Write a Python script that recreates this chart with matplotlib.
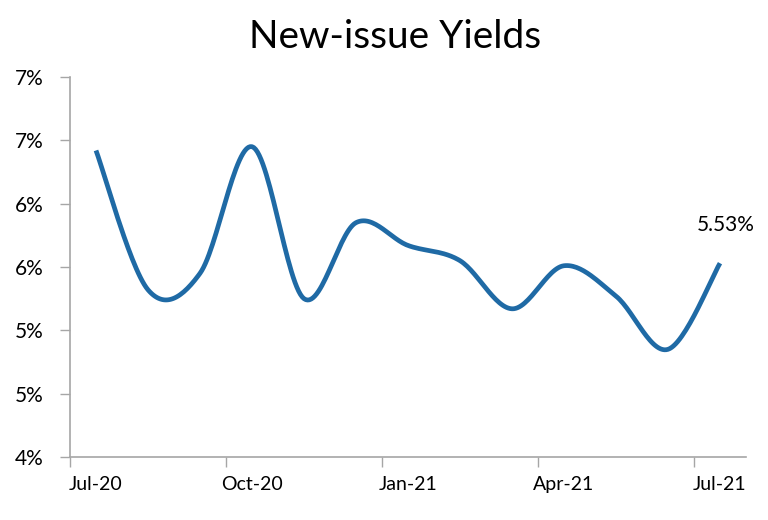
import numpy as np
import matplotlib
matplotlib.use('Agg')
import matplotlib.pyplot as plt
import matplotlib.ticker as plticker

months = ['Jul-20', 'Aug-20', 'Sep-20', 'Oct-20', 'Nov-20', 'Dec-20', 'Jan-21',
          'Feb-21', 'Mar-21', 'Apr-21', 'May-21', 'Jun-21', 'Jul-21']
yields = [6.42, 5.32, 5.45, 6.45, 5.25, 5.85, 5.67,
          5.55, 5.17, 5.51, 5.27, 4.85, 5.53]
tick_labels = ['Jul-20', 'Oct-20', 'Jan-21', 'Apr-21', 'Jul-21']
y_ticks = [4.0, 4.5, 5.0, 5.5, 6.0, 6.5, 7.0]

plt.rcParams['font.family'] = ['Lato', 'DejaVu Sans']


def smooth(x, y, n=30):
    # Catmull-Rom style smoothing, like the spreadsheet "smoothed line"
    x = np.asarray(x, float)
    y = np.asarray(y, float)
    px = np.concatenate([[x[0]], x, [x[-1]]])
    py = np.concatenate([[y[0]], y, [y[-1]]])
    xs, ys = [], []
    t = np.linspace(0, 1, n)
    for i in range(1, len(px) - 2):
        p0, p1, p2, p3 = (np.array([px[j], py[j]]) for j in range(i - 1, i + 3))
        c1 = p1 + (p2 - p0) / 6
        c2 = p2 - (p3 - p1) / 6
        b = ((1 - t) ** 3)[:, None] * p1 + (3 * (1 - t) ** 2 * t)[:, None] * c1 \
            + (3 * (1 - t) * t ** 2)[:, None] * c2 + (t ** 3)[:, None] * p2
        xs.extend(b[:, 0])
        ys.extend(b[:, 1])
    return np.array(xs), np.array(ys)


x = np.arange(len(months))
sx, sy = smooth(x, yields)

fig = plt.figure(figsize=(7.68, 5.2), dpi=100)
ax = fig.add_axes([70 / 768, 1 - 457 / 520, 676 / 768, 380 / 520])

ax.plot(sx, sy, color='#1f6aa5', linewidth=3.4, solid_capstyle='butt')

ax.set_xlim(-0.5, len(months) - 0.5)
ax.set_ylim(4, 7)
ax.set_yticks(y_ticks)
ax.yaxis.set_major_formatter(plticker.FuncFormatter(
    lambda v, p: '%d%%' % int(np.floor(v + 0.5))))

ax.set_xticks(np.arange(-0.5, len(months) - 1, 3))
ax.set_xticklabels([])
ax.set_xticks(np.arange(0, len(months), 3), minor=True)
ax.set_xticklabels(tick_labels, minor=True)
ax.tick_params(axis='x', which='minor', length=0, pad=14, labelsize=14)
ax.tick_params(axis='x', which='major', length=7, color='#a6a6a6', width=1)
ax.tick_params(axis='y', length=7, color='#a6a6a6', width=1, labelsize=15, pad=12)

for s in ['top', 'right']:
    ax.spines[s].set_visible(False)
for s in ['left', 'bottom']:
    ax.spines[s].set_color('#a6a6a6')
    ax.spines[s].set_linewidth(1.2)

ax.annotate('%.2f%%' % yields[-1], (x[-1], yields[-1]), xytext=(4, 20),
            textcoords='offset points', ha='center', va='bottom', fontsize=15)

fig.text(395 / 768, 1 - 37 / 520, 'New-issue Yields', ha='center', va='center',
         fontsize=28)

fig.savefig('out.png', dpi=100)
